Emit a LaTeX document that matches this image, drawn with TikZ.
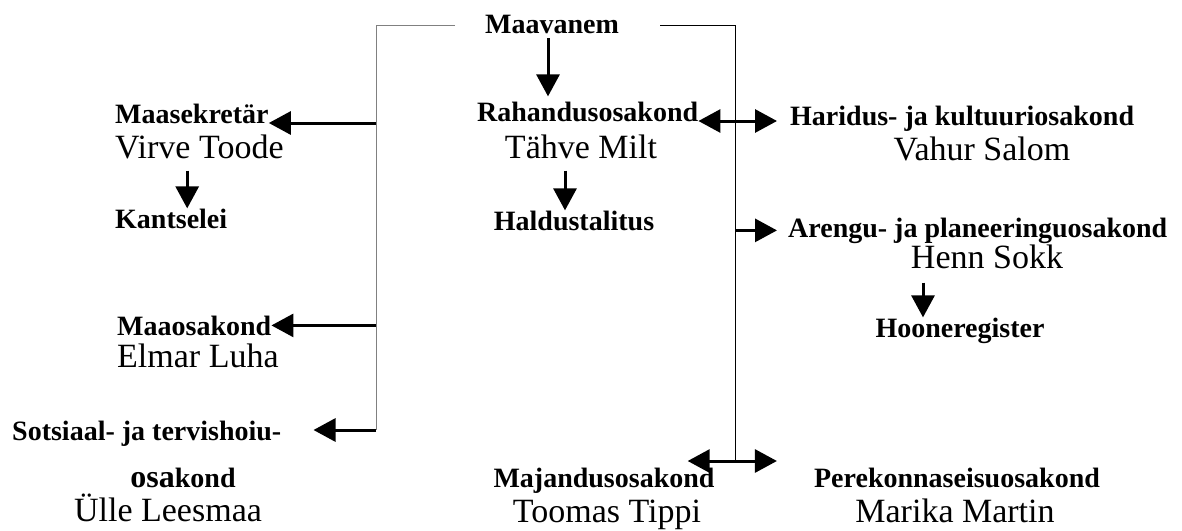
\documentclass[tikz,border=0pt]{standalone}
\usepackage{fontspec}
\setmainfont{Liberation Serif}[BoldFont={Liberation Serif Bold}]
\usetikzlibrary{arrows.meta}

\begin{document}
\begin{tikzpicture}[x=1pt, y=-1pt,
			unit/.style={font=\bfseries\fontsize{28}{30}\selectfont, inner sep=0pt},
			head/.style={font=\fontsize{34}{36}\selectfont, inner sep=0pt},
			bus/.style={line width=1pt, draw=black!50},
			link/.style={line width=0.8pt, draw=black},
			arr/.style={line width=3pt, -{Triangle[length=22pt,width=23pt]}},
			arrb/.style={line width=3pt, {Triangle[length=22pt,width=23pt]}-{Triangle[length=22pt,width=23pt]}}]
			\useasboundingbox (0,0) rectangle (1182,530);
			\node[unit, anchor=base] (maavanem) at (552, 33) {Maavanem};
			\node[unit, anchor=base west] (sekretar) at (115, 123) {Maasekretär};
			\node[head, anchor=base west] (virve) at (115, 158) {Virve Toode};
			\node[unit, anchor=base west] (kantselei) at (115, 228) {Kantselei};
			\node[unit, anchor=base west] (maaosak) at (117, 335) {Maaosakond};
			\node[head, anchor=base west] (elmar) at (117, 367) {Elmar Luha};
			\node[unit, anchor=base west] (sotsiaal) at (12, 440) {Sotsiaal- ja tervishoiu-};
			\node[unit, anchor=base] (osakond) at (183, 487) {{\fontsize{32}{32}\selectfont osa}kond};
			\node[head, anchor=base] (ulle) at (168, 521) {Ülle Leesmaa};
			\node[unit, anchor=base west] (rahandus) at (477, 121) {Rahandusosakond};
			\node[head, anchor=base] (tahve) at (581, 158) {Tähve Milt};
			\node[unit, anchor=base] (haldus) at (574, 230) {Haldustalitus};
			\node[unit, anchor=base] (majandus) at (604, 487) {Majandusosakond};
			\node[head, anchor=base] (toomas) at (607, 522) {Toomas Tippi};
			\node[unit, anchor=base west] (haridus) at (790, 125) {Haridus- ja kultuuriosakond};
			\node[head, anchor=base] (vahur) at (982, 160) {Vahur Salom};
			\node[unit, anchor=base west] (arengu) at (788, 237) {Arengu- ja planeeringuosakond};
			\node[head, anchor=base] (henn) at (987, 268) {Henn Sokk};
			\node[unit, anchor=base] (hoone) at (960, 337) {Hooneregister};
			\node[unit, anchor=base] (perekonna) at (957, 487) {Perekonnaseisuosakond};
			\node[head, anchor=base] (marika) at (955, 522) {Marika Martin};

			\coordinate (lt) at (455, 25);
			\coordinate (lc) at (376, 25);
			\coordinate (lb) at (376, 430);
			\coordinate (rt) at (660, 25);
			\coordinate (rc) at (735, 25);
			\coordinate (rb) at (735, 461);

			\draw[bus] (lt) -- (lc) -- (lb);
			\draw[link] (rt) -- (rc) -- (rb);

			\path[arr, shorten <=5pt, shorten >=5pt] ([xshift=-4pt]maavanem.south) edge ([xshift=-4pt]maavanem.south |- rahandus.north);
			\path[arr] 	(lc |- sekretar.base east)  edge   (sekretar.base east);
			\path[arr, shorten <=12pt] ([xshift=16pt]kantselei.north |- virve.south)  edge   ([xshift=16pt]kantselei.north);
			\path[arr] 	(lc |- maaosak.east)  edge   (maaosak.east);
			\path[arr] 	(lb)  edge   ([xshift=32pt]sotsiaal.east |- lb);
			\path[arr, shorten <=12pt] ([xshift=-9pt]haldus.north |- tahve.south)  edge   ([xshift=-9pt]haldus.north);
			\path[arrb] 	(rahandus.base east)  edge   ([xshift=-13pt]haridus.base west |- rahandus.base east);
			\path[arr] 	(rc |- arengu.west)  edge   ([xshift=-11pt]arengu.west);
			\path[arr, shorten <=14pt] ([xshift=-37pt]hoone.north |- henn.south)  edge   ([xshift=-37pt]hoone.north);
			\path[arrb] 	([xshift=-27pt]majandus.north east |- rb)  edge   ([xshift=-37pt]perekonna.north west |- rb);
\end{tikzpicture}
\end{document}
